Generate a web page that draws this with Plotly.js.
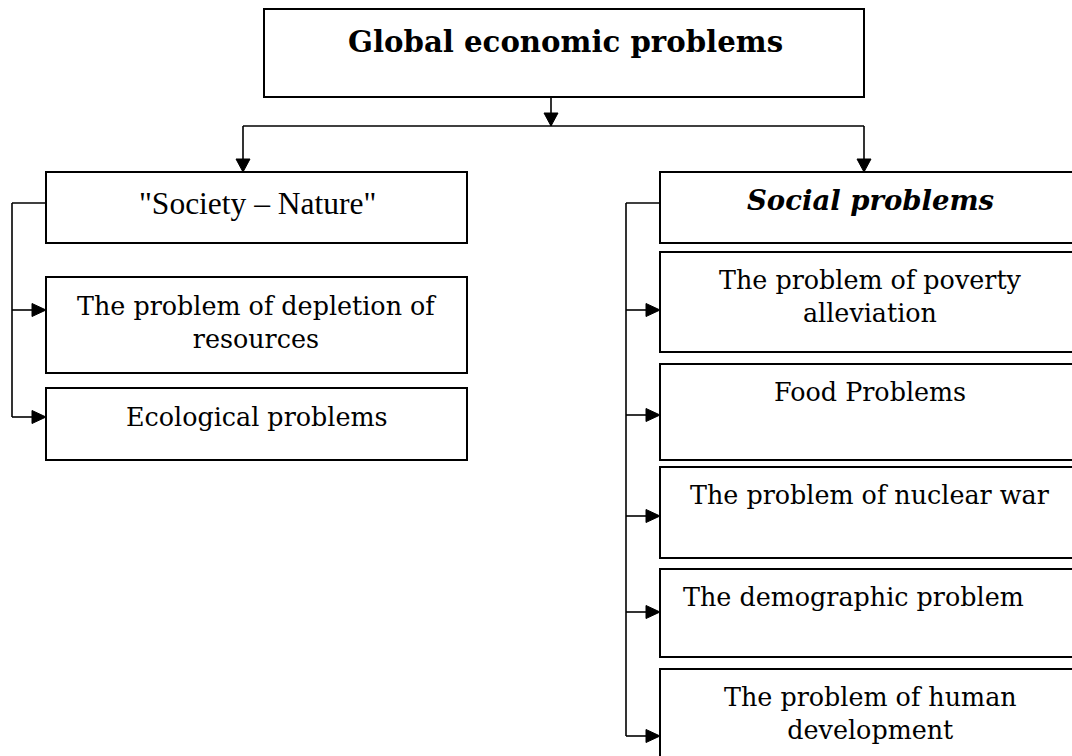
<!DOCTYPE html>
<html>
<head>
<meta charset="utf-8">
<script src="https://cdn.plot.ly/plotly-3.0.1.min.js"></script>
<style>html,body{margin:0;padding:0;background:#fff;}#chart{width:1072px;height:756px;}</style>
</head>
<body>
<div id="chart"></div>
<script>
// ---- content ----
const rootLabel = "Global economic problems";
const groupLabels = ["\"Society – Nature\"", "Social problems"];
const natureItems = ["The problem of depletion of<br>resources", "Ecological problems"];
const socialItems = [
  "The problem of poverty<br>alleviation",
  "Food Problems",
  "The problem of nuclear war",
  "The demographic problem",
  "The problem of human<br>development"
];

// ---- geometry (layout only) ----
const rootBox = {x0: 264, x1: 864, y0: 9, y1: 97};
const groupBoxes = [
  {x0: 46, x1: 467, y0: 172, y1: 243},
  {x0: 660, x1: 1085, y0: 172, y1: 243}
];
const natureBoxes = [
  {x0: 46, x1: 467, y0: 277, y1: 373, ty: 322, arrowY: 310},
  {x0: 46, x1: 467, y0: 388, y1: 460, ty: 417, arrowY: 417}
];
const socialBoxes = [
  {x0: 660, x1: 1085, y0: 252, y1: 352, ty: 296, arrowY: 310, tx: 870},
  {x0: 660, x1: 1085, y0: 364, y1: 460, ty: 392, arrowY: 415, tx: 870},
  {x0: 660, x1: 1085, y0: 467, y1: 558, ty: 495, arrowY: 516, tx: 870},
  {x0: 660, x1: 1085, y0: 569, y1: 657, ty: 597, arrowY: 612, tx: 853},
  {x0: 660, x1: 1085, y0: 669, y1: 770, ty: 713, arrowY: 736, tx: 870}
];
const splitY = 126;
const groupArrowX = [243, 864];
const bracketX = [12, 626];
const bracketY = 203;

const shapes = [];
const annotations = [];
const BOX = {color: "#000", width: 2};
const LINE = {color: "#000", width: 1.6};
function rect(b) {
  shapes.push({type: "rect", xref: "x", yref: "y", x0: b.x0, x1: b.x1, y0: b.y0, y1: b.y1,
    line: BOX, fillcolor: "rgba(0,0,0,0)", layer: "above"});
}
function seg(x0, y0, x1, y1) {
  shapes.push({type: "line", xref: "x", yref: "y", x0, y0, x1, y1, line: LINE});
}
function headDown(x, yTip) {
  shapes.push({type: "path", xref: "x", yref: "y",
    path: `M ${x - 7} ${yTip - 13} L ${x + 7} ${yTip - 13} L ${x} ${yTip} Z`,
    fillcolor: "#000", line: {color: "#000", width: 1}});
}
function headRight(xTip, y) {
  shapes.push({type: "path", xref: "x", yref: "y",
    path: `M ${xTip - 14} ${y - 6.5} L ${xTip - 14} ${y + 6.5} L ${xTip} ${y} Z`,
    fillcolor: "#000", line: {color: "#000", width: 1}});
}
function text(t, x, y, font) {
  annotations.push({text: t, x, y, xref: "x", yref: "y", showarrow: false,
    xanchor: "center", yanchor: "middle", align: "center", font});
}

const SERIF = "DejaVu Serif";
const bodyFont = {family: SERIF, size: 25.4, color: "#000"};

// root
rect(rootBox);
text("<b>" + rootLabel + "</b>", 565, 42, {family: SERIF, size: 29.2, color: "#000"});
const midX = 551;
seg(midX, rootBox.y1, midX, splitY);
headDown(midX, splitY);
seg(groupArrowX[0], splitY, groupArrowX[1], splitY);
groupArrowX.forEach((gx, i) => {
  seg(gx, splitY, gx, groupBoxes[i].y0);
  headDown(gx, groupBoxes[i].y0);
});

// groups
groupBoxes.forEach(rect);
text(groupLabels[0], 257, 203, {family: "Liberation Serif", size: 31.5, color: "#000"});
text("<b><i>" + groupLabels[1] + "</i></b>", 870, 200, {family: SERIF, size: 27.5, color: "#000"});

// left branch
seg(groupBoxes[0].x0, bracketY, bracketX[0], bracketY);
seg(bracketX[0], bracketY, bracketX[0], natureBoxes[natureBoxes.length - 1].arrowY);
natureBoxes.forEach((b, i) => {
  rect(b);
  seg(bracketX[0], b.arrowY, b.x0 - 12, b.arrowY);
  headRight(b.x0, b.arrowY);
  text(natureItems[i], (b.x0 + b.x1) / 2, b.ty, bodyFont);
});

// right branch
seg(groupBoxes[1].x0, bracketY, bracketX[1], bracketY);
seg(bracketX[1], bracketY, bracketX[1], socialBoxes[socialBoxes.length - 1].arrowY);
socialBoxes.forEach((b, i) => {
  rect(b);
  seg(bracketX[1], b.arrowY, b.x0 - 12, b.arrowY);
  headRight(b.x0, b.arrowY);
  text(socialItems[i], b.tx, b.ty, bodyFont);
});

const layout = {
  width: 1072, height: 756,
  margin: {l: 0, r: 0, t: 0, b: 0},
  paper_bgcolor: "#fff", plot_bgcolor: "#fff",
  xaxis: {range: [0, 1072], visible: false, fixedrange: true},
  yaxis: {range: [756, 0], visible: false, fixedrange: true},
  shapes, annotations, showlegend: false
};
Plotly.newPlot("chart", [], layout, {staticPlot: true});
</script>
</body>
</html>
